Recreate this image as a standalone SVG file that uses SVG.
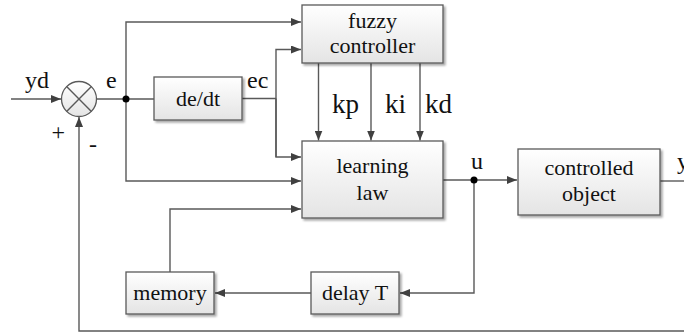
<svg xmlns="http://www.w3.org/2000/svg" width="684" height="333" viewBox="0 0 684 333">
  <defs>
    <linearGradient id="boxFill" x1="0" y1="0" x2="0" y2="1">
      <stop offset="0" stop-color="#ffffff"/>
      <stop offset="1" stop-color="#e4e4e4"/>
    </linearGradient>
    <filter id="shadow" x="-10%" y="-10%" width="130%" height="140%">
      <feGaussianBlur in="SourceAlpha" stdDeviation="1"/>
      <feOffset dx="1.5" dy="1.5" result="off"/>
      <feComponentTransfer><feFuncA type="linear" slope="0.35"/></feComponentTransfer>
      <feMerge><feMergeNode/><feMergeNode in="SourceGraphic"/></feMerge>
    </filter>
    <marker id="arrow" viewBox="0 0 10 8" refX="10" refY="4" markerWidth="10" markerHeight="8" markerUnits="userSpaceOnUse" orient="auto">
      <path d="M0,0 L10,4 L0,8 Z" fill="#404040"/>
    </marker>
  </defs>
  <style>
    .box { fill: url(#boxFill); stroke: #595959; stroke-width: 1.3; filter: url(#shadow); }
    .wire { fill: none; stroke: #595959; stroke-width: 1.4; }
    .arr { marker-end: url(#arrow); }
    text { font-family: 'Liberation Serif', 'DejaVu Serif', 'Noto Serif', FreeSerif, Times, 'Times New Roman', serif; fill: #111; }
    .t { font-size: 22px; text-anchor: middle; }
    .lbl { font-size: 24px; }
    .gain { font-size: 27px; }
    .dot { fill: #000; }
  </style>

  <!-- signal lines -->
  <g id="connectors">
    <path class="wire arr" d="M11,99 H61"/>
    <path class="wire" d="M97,99 H154"/>
    <path class="wire arr" d="M126,99 V22 H301"/>
    <path class="wire arr" d="M126,99 V181 H301"/>
    <path class="wire" d="M242,98.5 H276"/>
    <path class="wire arr" d="M276,157 V49.5 H301"/>
    <path class="wire arr" d="M276,98.5 V157 H301"/>
    <path class="wire arr" d="M318.5,63 V140.5"/>
    <path class="wire arr" d="M371,63 V140.5"/>
    <path class="wire arr" d="M420,63 V140.5"/>
    <path class="wire arr" d="M443,180 H517"/>
    <path class="wire" d="M660,181 H684"/>
    <path class="wire arr" d="M474,180 V293 H400"/>
    <path class="wire arr" d="M311,293 H215"/>
    <path class="wire arr" d="M170,272 V209 H301"/>
    <path class="wire arr" d="M684,331 H79 V117"/>
    <circle class="dot" cx="126" cy="99" r="3.5"/>
    <circle class="dot" cx="474" cy="180" r="3.5"/>
  </g>

  <!-- summing junction -->
  <g id="sum">
    <circle cx="79" cy="99" r="17.5" fill="url(#boxFill)" stroke="#595959" stroke-width="1.3"/>
    <path class="wire" d="M66.6,86.6 L91.4,111.4 M91.4,86.6 L66.6,111.4"/>
    <text class="lbl" x="51.5" y="140">+</text>
    <text class="lbl" x="89" y="152">-</text>
  </g>

  <g id="de-dt">
    <rect class="box" x="154" y="77" width="88" height="43"/>
    <text class="t" x="198" y="106">de/dt</text>
  </g>

  <g id="fuzzy-controller">
    <rect class="box" x="302" y="5" width="141" height="58"/>
    <text class="t" x="372.5" y="28">fuzzy</text>
    <text class="t" x="372.5" y="53">controller</text>
  </g>

  <g id="learning-law">
    <rect class="box" x="302" y="141" width="141" height="77"/>
    <text class="t" x="372.5" y="173">learning</text>
    <text class="t" x="372.5" y="200">law</text>
  </g>

  <g id="controlled-object">
    <rect class="box" x="518" y="149" width="142" height="66"/>
    <text class="t" x="589" y="175">controlled</text>
    <text class="t" x="589" y="201">object</text>
  </g>

  <g id="delay">
    <rect class="box" x="311" y="272" width="88" height="42"/>
    <text class="t" x="355" y="300">delay T</text>
  </g>

  <g id="memory">
    <rect class="box" x="126" y="272" width="88" height="42"/>
    <text class="t" x="170" y="300">memory</text>
  </g>

  <!-- signal labels -->
  <g id="labels">
    <text class="lbl" x="25" y="88">yd</text>
    <text class="lbl" x="106" y="88">e</text>
    <text class="lbl" x="247" y="88">ec</text>
    <text class="gain" x="332" y="113">kp</text>
    <text class="gain" x="385" y="113">ki</text>
    <text class="gain" x="425" y="113">kd</text>
    <text class="lbl" x="471" y="169">u</text>
    <text class="lbl" x="677" y="169">y</text>
  </g>
</svg>
